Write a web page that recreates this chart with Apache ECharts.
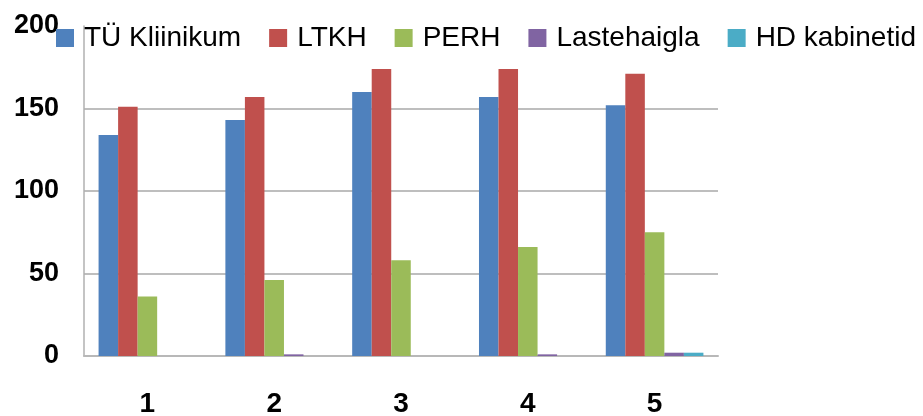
<!DOCTYPE html>
<html>
<head>
<meta charset="utf-8">
<script src="https://cdn.jsdelivr.net/npm/echarts@6/dist/echarts.min.js"></script>
<style>html,body{margin:0;padding:0;background:#fff}#c{width:923px;height:416px}</style>
</head>
<body>
<div id="c"></div>
<script>
var categories = ['1', '2', '3', '4', '5'];
var seriesNames = ['TÜ Kliinikum', 'LTKH', 'PERH', 'Lastehaigla', 'HD kabinetid'];
var tuKliinikum = [134, 143, 160, 157, 152];
var ltkh = [151, 157, 174, 174, 171];
var perh = [36, 46, 58, 66, 75];
var lastehaigla = [0, 1, 0, 1, 2];
var hdKabinetid = [0, 0, 0, 0, 2];
var yTicks = [0, 50, 100, 150, 200];

var colors = ['#4f81bd', '#c0504d', '#9bbb59', '#8064a2', '#4bacc6'];
var values = [tuKliinikum, ltkh, perh, lastehaigla, hdKabinetid];
var font = '"Liberation Sans", Arial, sans-serif';

var chart = echarts.init(document.getElementById('c'), null, {renderer: 'canvas'});
chart.setOption({
  animation: false,
  color: colors,
  textStyle: {fontFamily: font},
  legend: {
    left: 56,
    top: 24,
    padding: 0,
    itemWidth: 18,
    itemHeight: 18,
    itemGap: 28,
    icon: 'rect',
    textStyle: {fontFamily: font, fontSize: 28, color: '#000', padding: [0, 0, 0, 5]},
    data: seriesNames
  },
  grid: {left: 84, right: 205, top: 26, bottom: 60, containLabel: false, outerBoundsMode: 'none'},
  xAxis: {
    type: 'category',
    data: categories,
    axisLine: {lineStyle: {color: '#b8b8b8', width: 2}},
    axisTick: {show: false},
    axisLabel: {fontFamily: font, fontSize: 28, fontWeight: 'bold', color: '#000', margin: 34}
  },
  yAxis: {
    type: 'value',
    min: yTicks[0],
    max: yTicks[yTicks.length - 1],
    interval: yTicks[1] - yTicks[0],
    axisLine: {show: true, lineStyle: {color: '#b0b0b0', width: 1.5}},
    axisTick: {show: false},
    splitLine: {show: true, showMaxLine: false, lineStyle: {color: '#a8a8a8', width: 1.5}},
    axisLabel: {fontFamily: font, fontSize: 27, fontWeight: 'bold', color: '#000', margin: 25}
  },
  series: seriesNames.map(function (n, i) {
    return {
      name: n,
      type: 'bar',
      data: values[i],
      barGap: '0%',
      barCategoryGap: '23%',
      itemStyle: {color: colors[i]}
    };
  })
});
</script>
</body>
</html>
